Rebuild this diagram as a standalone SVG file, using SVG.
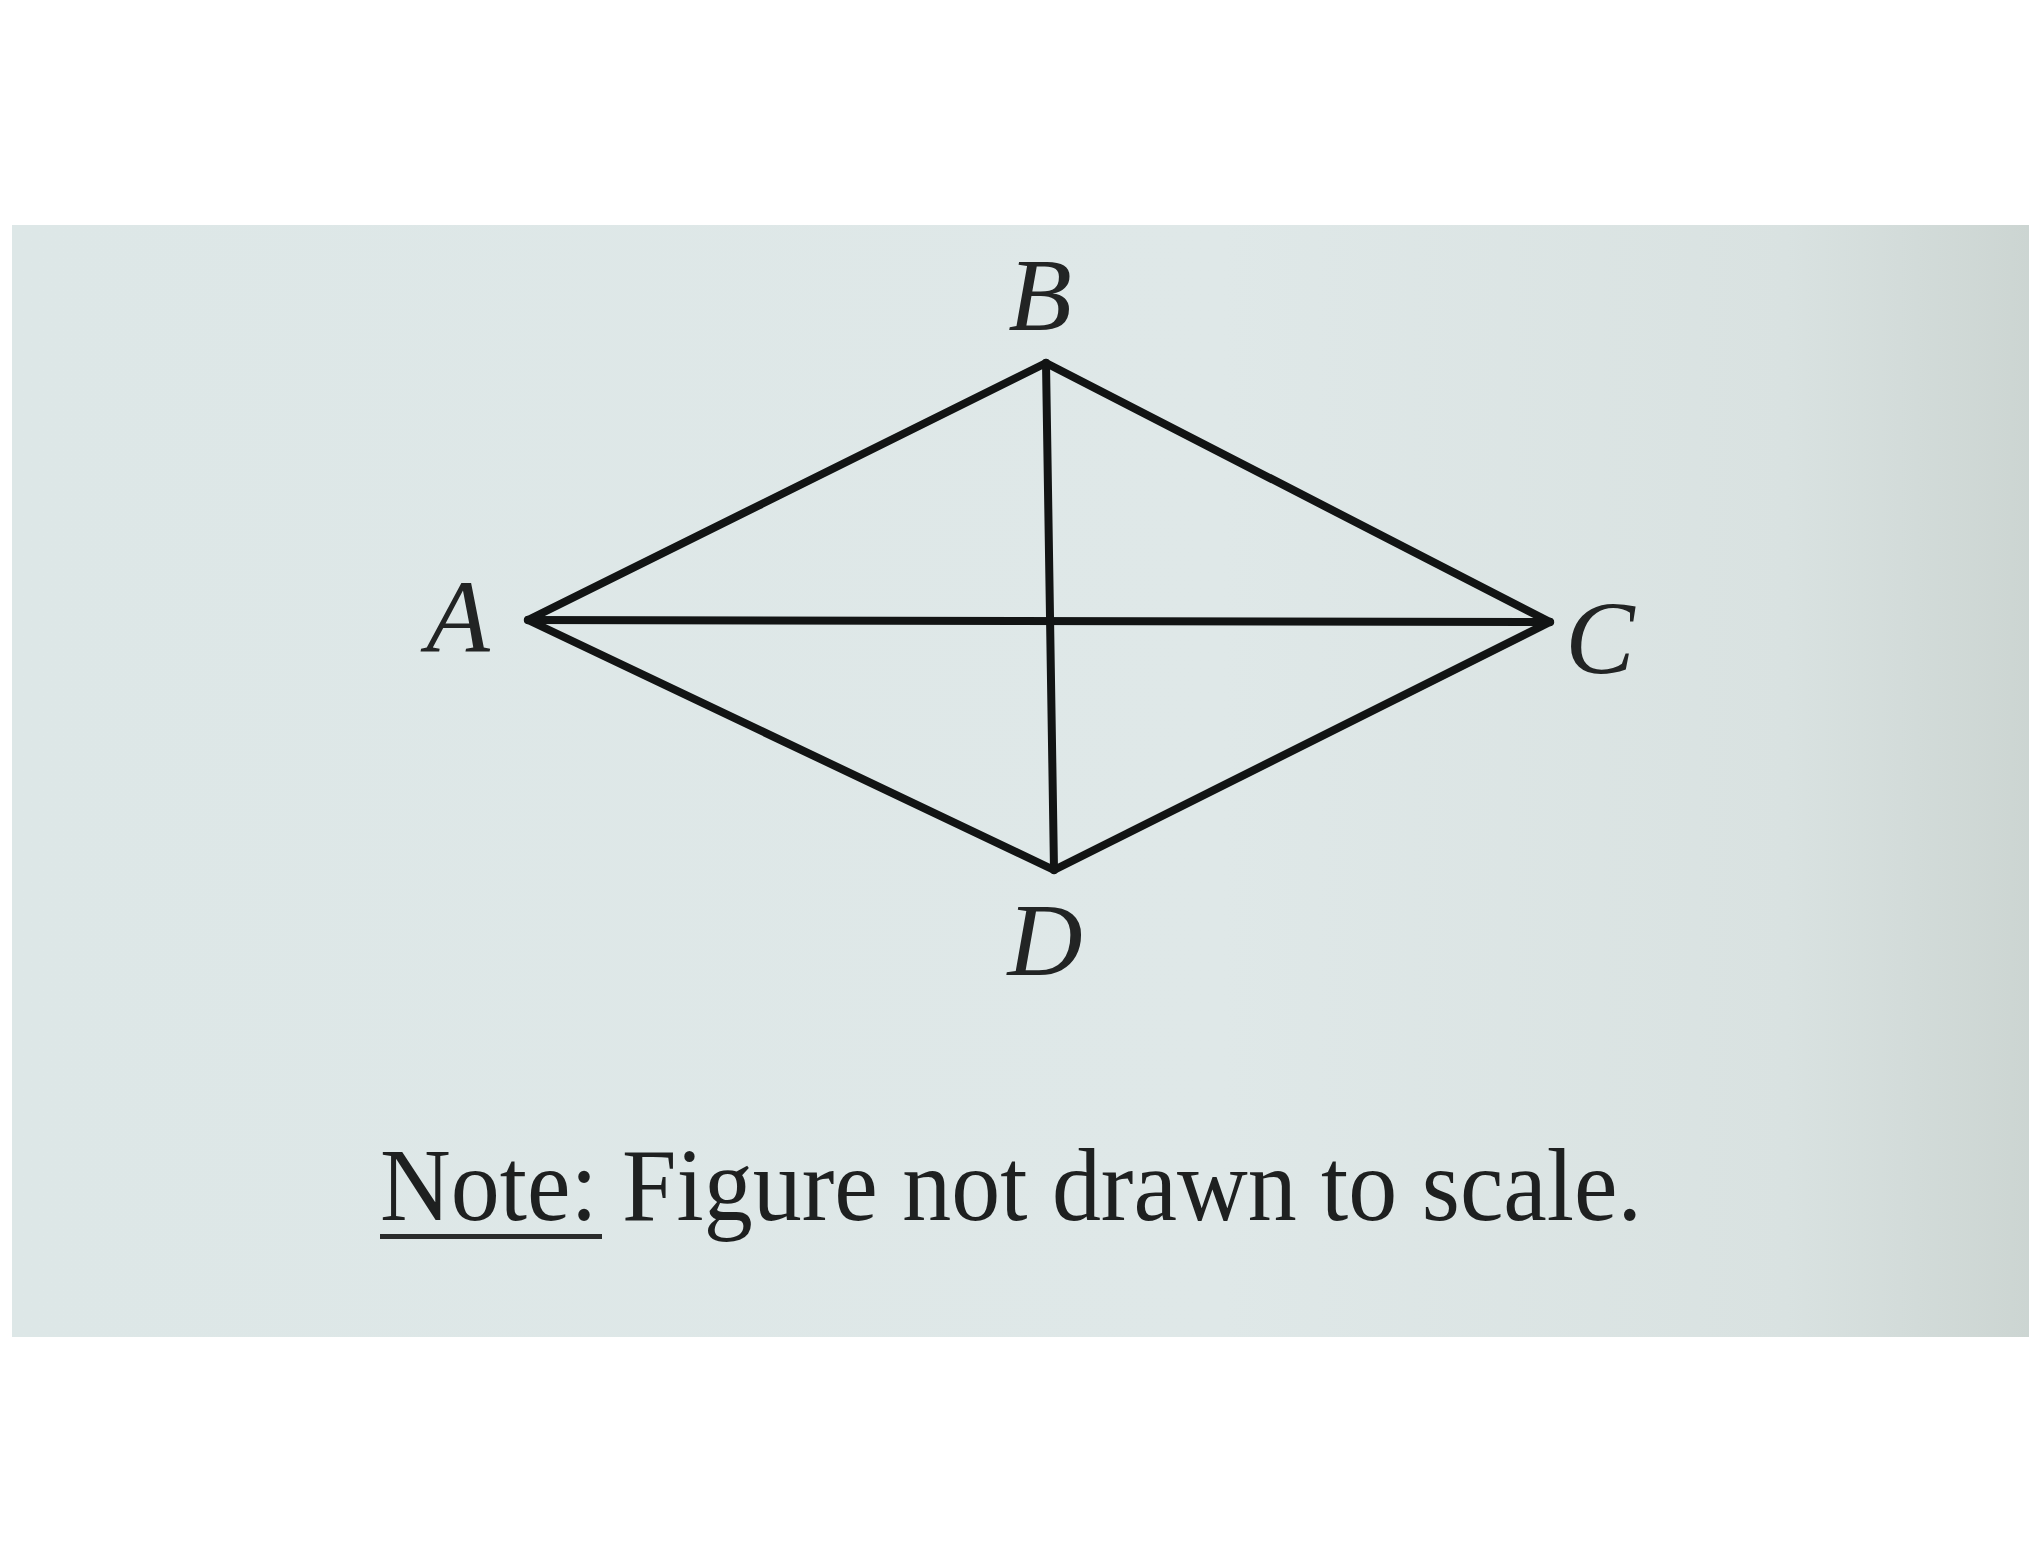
<svg xmlns="http://www.w3.org/2000/svg" width="2038" height="1567" viewBox="0 0 2038 1567">
  <style>
    .edge { stroke: #121414; stroke-width: 8; stroke-linecap: round; stroke-linejoin: round; fill: none; }
    .lbl { font-family: "Liberation Serif", "Times New Roman", serif; font-style: italic; font-size: 104px; fill: #222424; text-anchor: middle; }
    .note { font-family: "Liberation Serif", "Times New Roman", serif; font-size: 103px; fill: #1e2020; }
  </style>
  <defs>
    <linearGradient id="paper" x1="0" y1="0" x2="1" y2="0">
      <stop offset="0" stop-color="#dde7e7"/>
      <stop offset="0.6" stop-color="#dfe8e8"/>
      <stop offset="0.88" stop-color="#d9e2e1"/>
      <stop offset="1" stop-color="#ccd5d2"/>
    </linearGradient>
  </defs>
  <rect x="0" y="0" width="2038" height="1567" fill="#ffffff"/>
  <rect x="12" y="225" width="2017" height="1112" fill="url(#paper)"/>

  <g id="connectors">
    <line class="edge" x1="528" y1="620" x2="1046" y2="363"/>
    <line class="edge" x1="1046" y1="363" x2="1550" y2="622"/>
    <line class="edge" x1="1550" y1="622" x2="1054" y2="870"/>
    <line class="edge" x1="1054" y1="870" x2="528" y2="620"/>
    <line class="edge" x1="528" y1="620" x2="1550" y2="622"/>
    <line class="edge" x1="1046" y1="363" x2="1054" y2="870"/>
  </g>

  <g id="node-B"><text class="lbl" x="1040" y="330">B</text></g>
  <g id="node-A"><text class="lbl" x="458" y="652">A</text></g>
  <g id="node-C"><text class="lbl" x="1600" y="673">C</text></g>
  <g id="node-D"><text class="lbl" x="1045" y="975">D</text></g>

  <g id="note">
    <text class="note" x="380" y="1220" textLength="1262" lengthAdjust="spacingAndGlyphs">Note: Figure not drawn to scale.</text>
    <rect x="380" y="1234" width="222" height="5" fill="#2a2c2c"/>
  </g>
</svg>
